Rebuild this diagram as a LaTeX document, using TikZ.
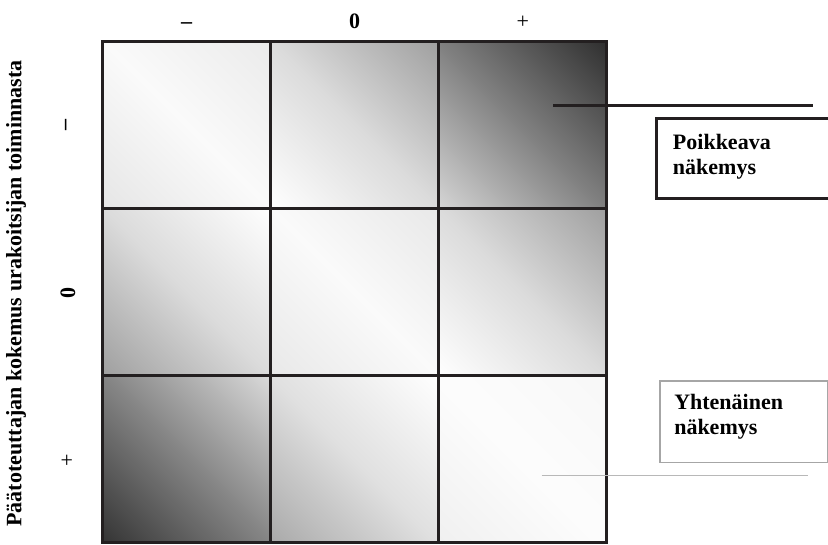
\documentclass[tikz,border=0pt]{standalone}
\usepackage{fontspec}
\setmainfont{Liberation Serif}
\definecolor{gridc}{HTML}{231F20}
\colorlet{cbot}{white}
\colorlet{cmid}{white}
\colorlet{ctop}{white}
\pgfdeclareverticalshading[cbot,cmid,ctop]{diagfull}{100bp}{%
  color(0bp)=(cbot); color(14bp)=(cbot); color(50bp)=(cmid);
  color(86bp)=(ctop); color(100bp)=(ctop)}
\begin{document}
\begin{tikzpicture}[x=0.75pt,y=0.75pt,
  gridline/.style={line width=2.25pt, draw=gridc},
  lbl/.style={font=\fontsize{16.5}{19}\selectfont, inner sep=0pt},
  blbl/.style={font=\bfseries\fontsize{16.5}{19}\selectfont, inner sep=0pt},
  boxtext/.style={font=\bfseries\fontsize{16.5}{19}\selectfont, anchor=base west, inner sep=0pt},
  thickline/.style={line width=2.25pt, draw=gridc},
  thinline/.style={line width=0.9pt, draw=black!28}]
\useasboundingbox (0,0) rectangle (828,545);
% shaded cells: row/col/bottom-left colour/middle/top-right colour
\foreach \r/\c/\cb/\cm/\ct in {
  1/1/black!10/black!2/black!8,
  1/2/white/black!14/black!38,
  1/3/black!16/black!50/black!82,
  2/1/black!38/black!14/white,
  2/2/black!9/black!2/black!9,
  2/3/white/black!14/black!38,
  3/1/black!80/black!48/black!14,
  3/2/black!34/black!12/white,
  3/3/black!6/black!1/black!3}{
  \pgfmathsetmacro{\xa}{102.7+168*(\c-1)}
  \pgfmathsetmacro{\xb}{102.7+168*\c}
  \pgfmathsetmacro{\ya}{503.7-167.2*\r}
  \pgfmathsetmacro{\yb}{503.7-167.2*(\r-1)}
  \colorlet{cbot}{\cb}\colorlet{cmid}{\cm}\colorlet{ctop}{\ct}
  \path[shading=diagfull, shading angle=-45]
    (\xa,\ya) rectangle (\xb,\yb);
}
% grid
\draw[gridline] (102.7,2.1) rectangle (606.7,503.7);
\draw[gridline] (270.7,2.1) -- (270.7,503.7);
\draw[gridline] (438.7,2.1) -- (438.7,503.7);
\draw[gridline] (102.7,336.5) -- (606.7,336.5);
\draw[gridline] (102.7,169.3) -- (606.7,169.3);
% column labels
\node[blbl, anchor=base] (cminus) at (186.7,516) {–};
\node[blbl, anchor=base] (czero) at (354.7,516) {0};
\node[lbl, anchor=base] (cplus) at (522.7,516) {+};
% row labels
\node[blbl, rotate=90] (rminus) at (68,420) {–};
\node[blbl, rotate=90] (rzero) at (68,252) {0};
\node[lbl, rotate=90] (rplus) at (68,85) {+};
% axis title
\node[blbl, rotate=90] (ytitle) at (16,251.5) {Päätoteuttajan kokemus urakoitsijan toiminnasta};
% Poikkeava box
\coordinate (pka) at (553,439);
\coordinate (pkb) at (813,439);
\draw[thickline] (pka) -- (pkb);
\draw[thickline] (829,426.7) -| (656.7,346.7) -- (829,346.7);
\node[boxtext] (pk1) at (672.7,395.7) {Poikkeava};
\node[boxtext] (pk2) at (672.7,370.5) {näkemys};
% Yhtenainen box
\draw[line width=0.8pt, draw=black!35] (660,82.3) rectangle (827.3,164);
\node[boxtext] (yh1) at (674,135.7) {Yhtenäinen};
\node[boxtext] (yh2) at (674,110.8) {näkemys};
\coordinate (yha) at (541.7,69.3);
\coordinate (yhb) at (808.3,69.3);
\draw[thinline] (yha) -- (yhb);
\end{tikzpicture}
\end{document}
